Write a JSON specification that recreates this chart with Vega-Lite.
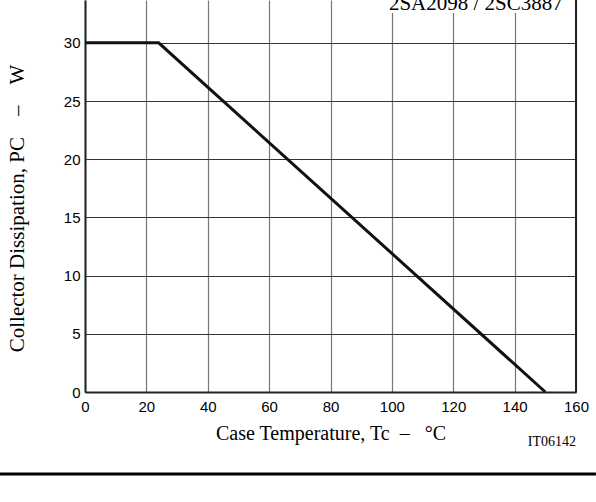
{
  "$schema": "https://vega.github.io/schema/vega-lite/v6.json",
  "width": 491,
  "height": 392,
  "autosize": {"type": "none"},
  "padding": {"left": 85, "top": 0, "right": 20, "bottom": 110},
  "background": "white",
  "config": {
    "view": {"stroke": null},
    "axis": {"labelFont": "Liberation Sans", "labelFontSize": 15, "labelColor": "#000", "titleFont": "Liberation Serif", "titleFontWeight": "normal", "titleColor": "#000", "tickSize": 0, "domainColor": "#222", "domainWidth": 2}
  },
  "datasets": {
    "curve": [
      {"tc": 0, "pc": 30},
      {"tc": 24, "pc": 30},
      {"tc": 150, "pc": 0}
    ]
  },
  "layer": [
    {
      "data": {"name": "curve"},
      "mark": {"type": "line", "color": "#111", "strokeWidth": 3, "clip": false},
      "encoding": {
        "x": {"field": "tc", "type": "quantitative", "scale": {"domain": [0, 160], "nice": false},
          "axis": {"values": [0, 20, 40, 60, 80, 100, 120, 140, 160], "title": "Case Temperature, Tc\u00a0\u00a0–\u00a0\u00a0\u00a0°C", "titleFontSize": 20, "titlePadding": 9, "labelPadding": 7, "gridColor": "#777", "gridWidth": 1.2, "grid": true, "labelFlush": false}},
        "y": {"field": "pc", "type": "quantitative", "scale": {"domain": [0, 33.68], "nice": false},
          "axis": {"values": [0, 5, 10, 15, 20, 25, 30], "title": "Collector Dissipation, PC\u00a0\u00a0\u00a0\u00a0–\u00a0\u00a0\u00a0\u00a0W", "titleFontSize": 21, "titleX": -62, "titleY": 208, "titleBaseline": "alphabetic", "titleAngle": 270, "labelPadding": 5, "gridColor": "#333", "gridWidth": 1, "grid": true}}
      }
    },
    {
      "data": {"values": [{"x": 160, "y0": 0, "y1": 33.68}]},
      "mark": {"type": "rule", "color": "#222", "strokeWidth": 2},
      "encoding": {"x": {"field": "x", "type": "quantitative"}, "y": {"field": "y0", "type": "quantitative"}, "y2": {"field": "y1"}}
    },
    {
      "data": {"values": [{"x0": 97.5, "x1": 158, "y0": 32.56, "y1": 33.68}]},
      "mark": {"type": "rect", "color": "white"},
      "encoding": {"x": {"field": "x0", "type": "quantitative"}, "x2": {"field": "x1"}, "y": {"field": "y0", "type": "quantitative"}, "y2": {"field": "y1"}}
    },
    {
      "data": {"values": [{"x": 155.7, "y": 32.85, "t": "2SA2098 / 2SC3887"}]},
      "mark": {"type": "text", "font": "Liberation Serif", "fontSize": 21, "align": "right", "baseline": "alphabetic", "color": "#000"},
      "encoding": {"x": {"field": "x", "type": "quantitative"}, "y": {"field": "y", "type": "quantitative"}, "text": {"field": "t"}}
    },
    {
      "data": {"values": [{"x": 160, "y": -4.64, "t": "IT06142"}]},
      "mark": {"type": "text", "font": "Liberation Serif", "fontSize": 14, "align": "right", "baseline": "alphabetic", "color": "#000"},
      "encoding": {"x": {"field": "x", "type": "quantitative"}, "y": {"field": "y", "type": "quantitative"}, "text": {"field": "t"}}
    },
    {
      "data": {"values": [{"x0": -27.7, "x1": 166.5, "y": -7.04}]},
      "mark": {"type": "rule", "color": "#000", "strokeWidth": 3},
      "encoding": {"x": {"field": "x0", "type": "quantitative"}, "x2": {"field": "x1"}, "y": {"field": "y", "type": "quantitative"}}
    }
  ]
}
